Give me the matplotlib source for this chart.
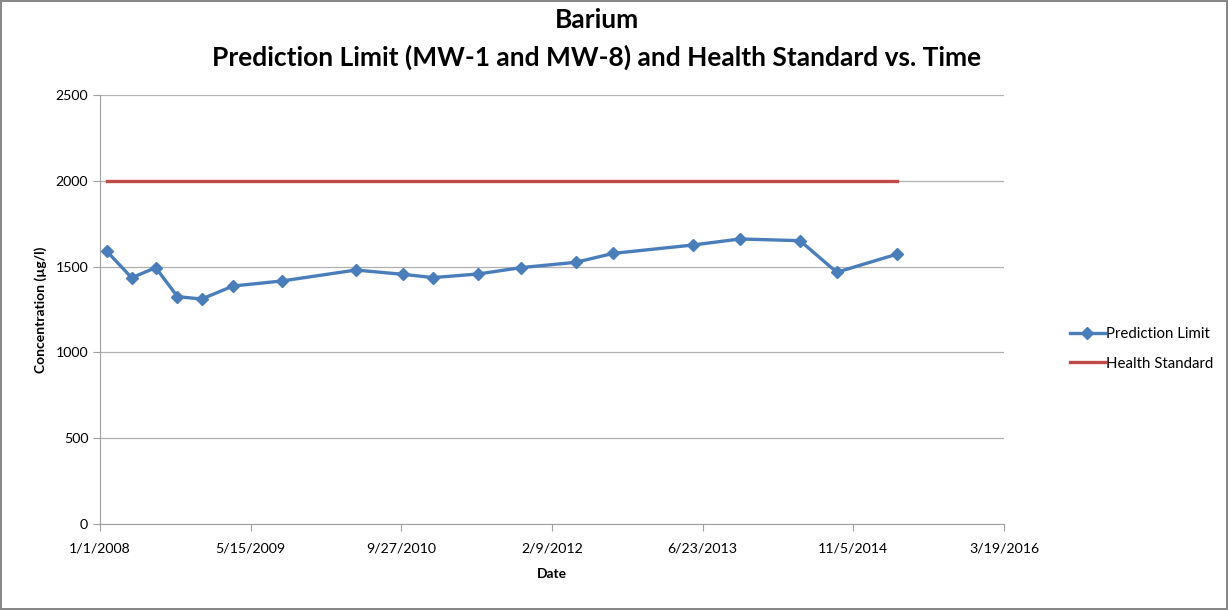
import matplotlib
matplotlib.use("Agg")
import matplotlib.pyplot as plt
import numpy as np
from datetime import date, timedelta

plt.rcParams['font.family'] = ['Lato', 'DejaVu Sans']

base = date(2008, 1, 1)
pl_day_offsets = [22, 105, 185, 257, 337, 442, 603, 849, 1005, 1106, 1255, 1397,
                  1579, 1703, 1969, 2124, 2323, 2445, 2646]
pl_values = [1591, 1435, 1494, 1325, 1311, 1387, 1416, 1480, 1455, 1436, 1457, 1494,
             1525, 1577, 1626, 1661, 1651, 1467, 1573]
hs_day_offsets = [22, 2646]
hs_values = [2000, 2000]
xtick_day_offsets = [0, 500, 1000, 1500, 2000, 2500, 3000]

pl_dates = [base + timedelta(days=d) for d in pl_day_offsets]
hs_dates = [base + timedelta(days=d) for d in hs_day_offsets]
xticks = [base + timedelta(days=d) for d in xtick_day_offsets]

W, H = 1228, 610
fig = plt.figure(figsize=(W/100, H/100), dpi=100)
fig.patch.set_edgecolor('#888888')
fig.patch.set_linewidth(1.5)
ax = fig.add_axes([100/W, (H-524)/H, 904/W, 429/H])

ax.plot(pl_dates, pl_values, color='#4A7EBB', lw=2.4, marker='D', ms=6.5,
        label='Prediction Limit', zorder=3)
ax.plot(hs_dates, hs_values, color='#BE4B48', lw=2.4, label='Health Standard', zorder=3)

ax.set_ylim(0, 2500)
ax.set_yticks(range(0, 2501, 500))
ax.set_xlim(xticks[0], xticks[-1])
ax.set_xticks(xticks)
ax.set_xticklabels([f"{d.month}/{d.day}/{d.year}" for d in xticks])

ax.grid(axis='y', color='#B0B0B0', lw=0.9)
ax.set_axisbelow(True)
for s in ['top', 'right']:
    ax.spines[s].set_visible(False)
for s in ['left', 'bottom']:
    ax.spines[s].set_color('#A0A0A0')
ax.tick_params(axis='both', colors='#A0A0A0', labelcolor='black', labelsize=10.2,
               length=5, direction='out')
ax.tick_params(axis='x', pad=8)

ax.set_xlabel('Date', fontsize=10, fontweight='bold', labelpad=10)
ax.set_ylabel('Concentration (µg/l)', fontsize=10, fontweight='bold', labelpad=6)

fig.text(597/W, 1-20/H, 'Barium', ha='center', va='center', fontsize=19, fontweight='bold')
fig.text(597/W, 1-57/H, 'Prediction Limit (MW-1 and MW-8) and Health Standard vs. Time',
         ha='center', va='center', fontsize=19, fontweight='bold')

leg = ax.legend(loc='center left', bbox_to_anchor=((1070-100)/904, (524-349)/429),
                frameon=False, fontsize=10.8, handlelength=2.3, handletextpad=0.1,
                borderaxespad=0, borderpad=0, labelspacing=1.0)

fig.savefig('out.png', dpi=100)
